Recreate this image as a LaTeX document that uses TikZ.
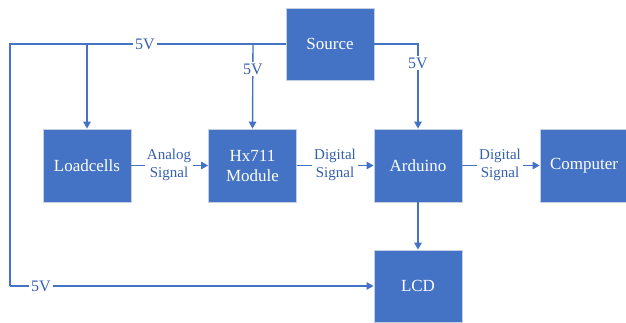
\documentclass[tikz,border=0pt]{standalone}
\usepackage{fontspec}
\setmainfont{Liberation Serif}
\usetikzlibrary{arrows.meta}
\definecolor{boxblue}{HTML}{4472C4}
\definecolor{boxedge}{HTML}{C5CFE3}
\definecolor{lineblue}{HTML}{4472C4}
\definecolor{textblue}{HTML}{3560B0}
\begin{document}
\begin{tikzpicture}[x=1pt,y=-1pt,
  blk/.style={draw=boxedge, line width=0.8pt, fill=boxblue, minimum width=88pt, minimum height=73pt,
    text=white, font=\fontsize{17}{20}\selectfont, align=center, inner sep=0pt},
  conn/.style={draw=lineblue, line width=1.4pt},
  arr/.style={conn, -{Triangle[length=7pt,width=7.5pt]}},
  lbl/.style={fill=white, text=textblue, font=\fontsize{15}{18}\selectfont, align=center, inner sep=2pt},
  vlbl/.style={fill=white, text=textblue, font=\fontsize{16}{18}\selectfont, inner sep=2pt}]
\useasboundingbox (0,0) rectangle (626,322);
\node[blk, minimum height=72pt] (src) at (330,44) {Source};
\node[blk] (load) at (87,165.5) {Loadcells};
\node[blk] (hx) at (252.5,165.5) {Hx711\\Module};
\node[blk] (ard) at (418,165.5) {Arduino};
\node[blk] (comp) at (584,165.5) {Computer};
\node[blk, minimum height=72pt] (lcd) at (418,286) {LCD};
\coordinate (tl) at (10,44);
\coordinate (bl) at (10,286);
\coordinate (bload) at (87,44);
\coordinate (bhx) at (253,44);
\coordinate (bard) at (418,44);
% main loop
\draw[conn] (src.west) -- (tl) -- (bl);
\draw[arr] (bl) -- (lcd.west);
\node[vlbl] (v1) at (145,44) {5V};
\node[vlbl] (v2) at (41,286) {5V};
% branches
\draw[arr] (bload) -- (load.north);
\draw[arr] (bhx) -- (hx.north);
\node[vlbl] (v3) at (253,69) {5V};
\draw[arr] (src.east) -- (bard) -- (ard.north);
\node[vlbl] (v4) at (418,63) {5V};
% signals
\draw[arr] (load.east) -- (hx.west);
\node[lbl] (s1) at (169,164.5) {Analog\\Signal};
\draw[arr] (hx.east) -- (ard.west);
\node[lbl] (s2) at (335,164.5) {Digital\\Signal};
\draw[arr] (ard.east) -- (comp.west);
\node[lbl] (s3) at (500,164.5) {Digital\\Signal};
\draw[arr] (ard.south) -- (lcd.north);
\end{tikzpicture}
\end{document}
